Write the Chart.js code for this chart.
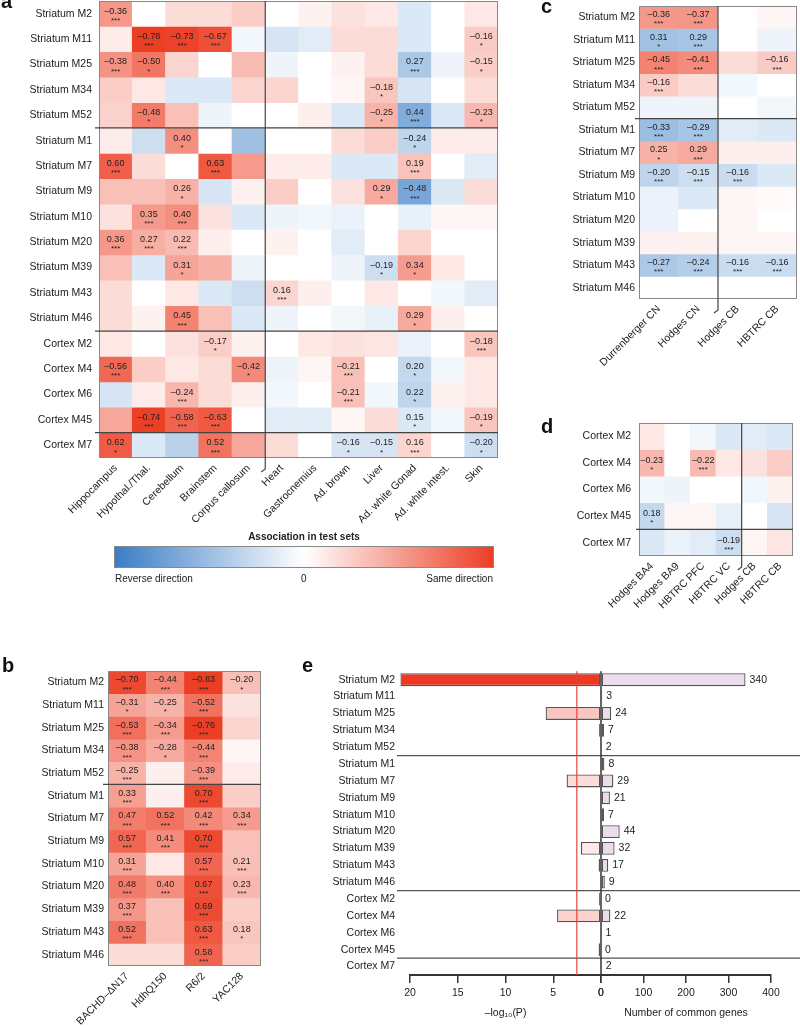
<!DOCTYPE html>
<html>
<head>
<meta charset="utf-8">
<script src="https://cdn.jsdelivr.net/npm/chart.js@4.4.1/dist/chart.umd.min.js"></script>
<style>
  body { margin: 0; background: #fff; font-family: "Liberation Sans", Arial, sans-serif; }
  #fig { position: relative; width: 800px; height: 1027px; overflow: hidden; }
  canvas { position: absolute; }
  .tag { position: absolute; font-weight: bold; font-size: 20px; line-height: 20px; color: #111; }
  .lg { position: absolute; font-size: 10px; line-height: 12px; color: #222; }
  .lgBar { position: absolute; box-sizing: border-box; border: 1px solid #888;
           background: linear-gradient(to right, rgb(58,125,198), #fff 50%, rgb(236,62,36)); }
</style>
</head>
<body>
<div id="fig">
  <canvas id="chartA" width="530" height="540" style="left:0;top:0"></canvas>
  <canvas id="chartB" width="262" height="387" style="left:0;top:640px"></canvas>
  <canvas id="chartC" width="270" height="405" style="left:530px;top:0"></canvas>
  <canvas id="chartD" width="270" height="207" style="left:530px;top:405px"></canvas>
  <canvas id="chartE" width="538" height="377" style="left:262px;top:650px"></canvas>

  <div class="tag" style="left:1px;top:-9px">a</div>
  <div class="tag" style="left:2px;top:655px">b</div>
  <div class="tag" style="left:541px;top:-4px">c</div>
  <div class="tag" style="left:541px;top:416px">d</div>
  <div class="tag" style="left:302px;top:655px">e</div>

  <div class="lg" style="left:114px;width:380px;top:531px;text-align:center;font-weight:bold">Association in test sets</div>
  <div class="lgBar" style="left:114px;top:546px;width:380px;height:22px"></div>
  <div class="lg" style="left:115px;top:573px">Reverse direction</div>
  <div class="lg" style="left:301px;top:573px">0</div>
  <div class="lg" style="left:394px;width:99px;top:573px;text-align:right">Same direction</div>
</div>

<script>
Chart.defaults.font.family = '"Liberation Sans", Arial, sans-serif';
Chart.defaults.color = '#222';

// module rows
const striatumRows = ['Striatum M2', 'Striatum M11', 'Striatum M25', 'Striatum M34', 'Striatum M52',
  'Striatum M1', 'Striatum M7', 'Striatum M9', 'Striatum M10', 'Striatum M20', 'Striatum M39',
  'Striatum M43', 'Striatum M46'];
const cortexRows = ['Cortex M2', 'Cortex M4', 'Cortex M6', 'Cortex M45', 'Cortex M7'];
const allRows = striatumRows.concat(cortexRows);

// panel a: tissues (score > 0 = same direction / red, < 0 = reverse / blue)
const aCols = ['Hippocampus', 'Hypothal./Thal.', 'Cerebellum', 'Brainstem', 'Corpus callosum',
  'Heart', 'Gastrocnemius', 'Ad. brown', 'Liver', 'Ad. white Gonad', 'Ad. white intest.', 'Skin'];
const aScores = [
  [0.36, 0.0, 0.1, 0.1, 0.15, 0.0, 0.03, 0.08, 0.06, -0.1, 0.0, 0.06],
  [0.05, 0.78, 0.73, 0.67, -0.03, -0.12, -0.08, 0.1, 0.1, -0.1, 0.0, 0.16],
  [0.38, 0.5, 0.12, 0.0, 0.22, -0.04, 0.0, 0.03, 0.1, -0.27, -0.04, 0.15],
  [0.15, 0.06, -0.1, -0.1, 0.12, 0.12, 0.0, 0.02, 0.18, -0.12, 0.0, 0.1],
  [0.13, 0.48, 0.2, -0.04, 0.0, 0.0, 0.04, -0.1, 0.25, -0.44, -0.1, 0.23],
  [0.05, -0.15, 0.4, 0.0, -0.32, 0.0, 0.0, 0.1, 0.15, -0.2, 0.05, 0.05],
  [0.6, 0.1, 0.0, 0.63, 0.35, 0.05, 0.05, -0.1, -0.1, 0.19, 0.0, -0.08],
  [0.2, 0.2, 0.26, -0.12, 0.03, 0.15, 0.0, 0.08, 0.29, -0.48, -0.1, 0.1],
  [0.08, 0.35, 0.4, 0.08, -0.1, -0.04, -0.03, -0.05, 0.0, -0.06, 0.02, 0.02],
  [0.36, 0.27, 0.22, 0.04, 0.0, 0.03, 0.0, -0.08, 0.0, 0.12, 0.0, 0.0],
  [0.2, -0.1, 0.31, 0.25, -0.04, 0.0, 0.0, -0.04, -0.15, 0.34, 0.06, 0.0],
  [0.1, 0.0, 0.06, -0.1, -0.15, 0.12, 0.04, 0.0, 0.06, 0.0, -0.03, -0.08],
  [0.1, 0.03, 0.45, 0.2, -0.1, -0.04, 0.0, -0.03, -0.06, 0.29, 0.04, 0.0],
  [0.06, 0.0, 0.08, 0.15, 0.03, 0.0, 0.06, 0.08, 0.07, -0.05, 0.0, 0.18],
  [0.56, 0.15, 0.06, 0.1, 0.42, -0.04, 0.02, 0.2, 0.0, -0.18, -0.03, 0.06],
  [-0.12, 0.05, 0.24, 0.1, 0.04, -0.03, 0.0, 0.2, -0.03, -0.2, 0.03, 0.06],
  [0.3, 0.74, 0.58, 0.63, 0.0, -0.08, -0.08, 0.02, 0.1, -0.1, -0.03, 0.18],
  [0.62, -0.1, -0.22, 0.52, 0.3, 0.1, 0.0, -0.12, -0.12, 0.12, 0.0, -0.15]
];
// [row, col, printed value, stars]
const aNotes = [
  [0, 0, -0.36, 3],
  [1, 1, -0.78, 3], [1, 2, -0.73, 3], [1, 3, -0.67, 3], [1, 11, -0.16, 1],
  [2, 0, -0.38, 3], [2, 1, -0.50, 1], [2, 9, 0.27, 3], [2, 11, -0.15, 1],
  [3, 8, -0.18, 1],
  [4, 1, -0.48, 1], [4, 8, -0.25, 1], [4, 9, 0.44, 3], [4, 11, -0.23, 1],
  [5, 2, 0.40, 1], [5, 9, -0.24, 1],
  [6, 0, 0.60, 3], [6, 3, 0.63, 3], [6, 9, 0.19, 3],
  [7, 2, 0.26, 1], [7, 8, 0.29, 1], [7, 9, -0.48, 3],
  [8, 1, 0.35, 3], [8, 2, 0.40, 3],
  [9, 0, 0.36, 3], [9, 1, 0.27, 3], [9, 2, 0.22, 3],
  [10, 2, 0.31, 1], [10, 8, -0.19, 1], [10, 9, 0.34, 1],
  [11, 5, 0.16, 3],
  [12, 2, 0.45, 3], [12, 9, 0.29, 1],
  [13, 3, -0.17, 1], [13, 11, -0.18, 3],
  [14, 0, -0.56, 3], [14, 4, -0.42, 1], [14, 7, -0.21, 3], [14, 9, 0.20, 1],
  [15, 2, -0.24, 3], [15, 7, -0.21, 3], [15, 9, 0.22, 1],
  [16, 1, -0.74, 3], [16, 2, -0.58, 3], [16, 3, -0.63, 3], [16, 9, 0.15, 1], [16, 11, -0.19, 1],
  [17, 0, 0.62, 1], [17, 3, 0.52, 3], [17, 7, -0.16, 1], [17, 8, -0.15, 1], [17, 9, 0.16, 3], [17, 11, -0.20, 1]
];

// panel b: HD mouse models
const bCols = ['BACHD\u2013\u0394N17', 'HdhQ150', 'R6/2', 'YAC128'];
const bScores = [
  [0.70, 0.44, 0.83, 0.20],
  [0.31, 0.25, 0.52, 0.08],
  [0.53, 0.34, 0.76, 0.12],
  [0.38, 0.28, 0.44, 0.02],
  [0.25, 0.04, 0.39, 0.05],
  [0.33, 0.04, 0.70, 0.15],
  [0.47, 0.52, 0.42, 0.34],
  [0.57, 0.41, 0.70, 0.2],
  [0.31, 0.06, 0.57, 0.21],
  [0.48, 0.40, 0.67, 0.23],
  [0.37, 0.2, 0.69, 0.15],
  [0.52, 0.2, 0.63, 0.18],
  [0.1, 0.1, 0.58, 0.15]
];
const bNotes = [
  [0, 0, -0.70, 3], [0, 1, -0.44, 3], [0, 2, -0.83, 3], [0, 3, -0.20, 1],
  [1, 0, -0.31, 1], [1, 1, -0.25, 1], [1, 2, -0.52, 3],
  [2, 0, -0.53, 3], [2, 1, -0.34, 3], [2, 2, -0.76, 3],
  [3, 0, -0.38, 3], [3, 1, -0.28, 1], [3, 2, -0.44, 3],
  [4, 0, -0.25, 3], [4, 2, -0.39, 3],
  [5, 0, 0.33, 3], [5, 2, 0.70, 3],
  [6, 0, 0.47, 3], [6, 1, 0.52, 3], [6, 2, 0.42, 3], [6, 3, 0.34, 3],
  [7, 0, 0.57, 3], [7, 1, 0.41, 3], [7, 2, 0.70, 3],
  [8, 0, 0.31, 3], [8, 2, 0.57, 3], [8, 3, 0.21, 3],
  [9, 0, 0.48, 3], [9, 1, 0.40, 3], [9, 2, 0.67, 3], [9, 3, 0.23, 3],
  [10, 0, 0.37, 3], [10, 2, 0.69, 3],
  [11, 0, 0.52, 3], [11, 2, 0.63, 3], [11, 3, 0.18, 1],
  [12, 2, 0.58, 3]
];

// panel c: human striatum / cerebellum
const cCols = ['Durrenberger CN', 'Hodges CN', 'Hodges CB', 'HBTRC CB'];
const cScores = [
  [0.36, 0.37, 0.0, 0.02],
  [-0.31, -0.29, 0.0, -0.04],
  [0.45, 0.41, 0.1, 0.16],
  [0.16, 0.1, -0.03, 0.0],
  [-0.04, -0.04, 0.0, -0.03],
  [-0.33, -0.29, -0.08, -0.1],
  [0.25, 0.29, 0.04, 0.04],
  [-0.2, -0.15, -0.16, -0.1],
  [-0.05, -0.1, 0.02, 0.01],
  [-0.05, 0.0, 0.02, 0.0],
  [0.03, 0.03, 0.02, 0.02],
  [-0.27, -0.24, -0.16, -0.16],
  [0.0, 0.0, 0.0, 0.0]
];
const cNotes = [
  [0, 0, -0.36, 3], [0, 1, -0.37, 3],
  [1, 0, 0.31, 1], [1, 1, 0.29, 3],
  [2, 0, -0.45, 3], [2, 1, -0.41, 3], [2, 3, -0.16, 3],
  [3, 0, -0.16, 3],
  [5, 0, -0.33, 3], [5, 1, -0.29, 3],
  [6, 0, 0.25, 1], [6, 1, 0.29, 3],
  [7, 0, -0.20, 3], [7, 1, -0.15, 3], [7, 2, -0.16, 3],
  [11, 0, -0.27, 3], [11, 1, -0.24, 3], [11, 2, -0.16, 3], [11, 3, -0.16, 3]
];

// panel d: human cortex / cerebellum
const dCols = ['Hodges BA4', 'Hodges BA9', 'HBTRC PFC', 'HBTRC VC', 'Hodges CB', 'HBTRC CB'];
const dScores = [
  [0.06, 0.0, -0.03, -0.1, -0.08, -0.1],
  [0.23, 0.0, 0.22, 0.06, 0.08, 0.15],
  [-0.03, -0.04, 0.0, 0.0, -0.03, 0.03],
  [-0.18, 0.02, 0.02, -0.06, 0.0, -0.12],
  [-0.1, -0.05, -0.08, -0.15, 0.02, 0.07]
];
const dNotes = [[1, 0, -0.23, 1], [1, 2, -0.22, 3], [3, 0, 0.18, 1], [4, 3, -0.19, 3]];

// panel e: overlap with HD signature
const eLogP = [21, 0.1, 5.8, 0.2, 0.05, 0.05, 3.6, 0.1, 0.05, 0, 2.1, 0.25, 0.1, 0.2, 4.6, 0, 0.25, 0];
const eGenes = [340, 3, 24, 7, 2, 8, 29, 21, 7, 44, 32, 17, 9, 0, 22, 1, 0, 2];
const eThreshold = 2.53;
const eLeftTicks = [20, 15, 10, 5, 0];
const eRightTicks = [0, 100, 200, 300, 400];

const FONT = 10.5;

function mix(end, t) {
  return 'rgb(' + end.map(c => Math.round(255 + (c - 255) * t)).join(',') + ')';
}

function heatColor(v) {
  const t = Math.pow(Math.min(1, Math.abs(v) / 0.75), 0.85);
  return mix(v >= 0 ? [236, 62, 36] : [58, 125, 198], t);
}

function fmt(v) {
  return (v < 0 ? '\u2013' : '') + Math.abs(v).toFixed(2);
}

// cell texts, frame and divider lines
const heatDecor = {
  id: 'heatDecor',
  afterDatasetsDraw(chart, args, o) {
    const { ctx, chartArea: ca, scales: { x, y } } = chart;
    ctx.save();
    ctx.textAlign = 'center';
    ctx.textBaseline = 'middle';
    ctx.fillStyle = '#222';
    o.notes.forEach(([r, c, v, s]) => {
      const el = chart.getDatasetMeta(r).data[c];
      const cy = (el.y + el.base) / 2;
      ctx.font = '9px "Liberation Sans", Arial';
      ctx.fillText(fmt(v), el.x, cy - 2.5);
      ctx.font = '8px "Liberation Sans", Arial';
      ctx.fillText('*'.repeat(s), el.x, cy + 7);
    });

    ctx.strokeStyle = '#888';
    ctx.lineWidth = 1;
    ctx.strokeRect(ca.left + 0.5, ca.top + 0.5, ca.width - 1, ca.height - 1);

    ctx.strokeStyle = '#444';
    ctx.lineWidth = 1.2;
    o.hLines.forEach(r => {
      const py = y.getPixelForValue(r);
      ctx.beginPath();
      ctx.moveTo(ca.left - o.lead, py);
      ctx.lineTo(ca.right, py);
      ctx.stroke();
    });
    if (o.vLine) {
      const px = (x.getPixelForValue(o.vLine - 1) + x.getPixelForValue(o.vLine)) / 2;
      ctx.beginPath();
      ctx.moveTo(px, ca.top);
      ctx.lineTo(px, ca.bottom + 11);
      ctx.lineTo(px - 4, ca.bottom + 14);
      ctx.stroke();
    }
    ctx.restore();
  }
};

function heatmap(id, rows, cols, scores, notes, o) {
  return new Chart(document.getElementById(id), {
    type: 'bar',
    data: {
      labels: cols,
      datasets: rows.map((r, ri) => ({
        label: r,
        data: cols.map(() => [ri, ri + 1]),
        backgroundColor: scores[ri].map(heatColor)
      }))
    },
    options: {
      responsive: false,
      animation: false,
      layout: { padding: { top: o.top, right: o.right, left: 0, bottom: 0 } },
      datasets: { bar: { grouped: false, barPercentage: 1, categoryPercentage: 1, borderWidth: 0 } },
      plugins: {
        legend: { display: false },
        tooltip: { enabled: false },
        heatDecor: { notes: notes, hLines: o.hLines, vLine: o.vLine, lead: o.lead }
      },
      scales: {
        x: {
          type: 'category',
          offset: true,
          grid: { display: false, drawTicks: false },
          border: { display: false },
          ticks: { minRotation: 45, maxRotation: 45, autoSkip: false, padding: 4, font: { size: FONT } },
          afterFit: s => { s.height = o.xHeight; s.paddingLeft = 0; s.paddingRight = 0; }
        },
        y: {
          type: 'linear',
          min: 0,
          max: rows.length,
          reverse: true,
          grid: { display: false, drawTicks: false },
          border: { display: false },
          afterBuildTicks: s => { s.ticks = rows.map((r, i) => ({ value: i + 0.5 })); },
          ticks: { autoSkip: false, padding: o.labelPad, font: { size: FONT }, callback: (v, i) => rows[i] },
          afterFit: s => { s.width = o.yWidth; s.paddingTop = 0; s.paddingBottom = 0; }
        }
      }
    },
    plugins: [heatDecor]
  });
}

heatmap('chartA', allRows, aCols, aScores, aNotes,
  { top: 1, right: 32, yWidth: 99, xHeight: 82, labelPad: 7, lead: 4, hLines: [5, 13, 17], vLine: 5 });
heatmap('chartB', striatumRows, bCols, bScores, bNotes,
  { top: 31, right: 1, yWidth: 108, xHeight: 61, labelPad: 4, lead: 5, hLines: [5], vLine: 0 });
heatmap('chartC', striatumRows, cCols, cScores, cNotes,
  { top: 6, right: 3, yWidth: 109, xHeight: 106, labelPad: 4, lead: 4, hLines: [5], vLine: 2 });
heatmap('chartD', cortexRows, dCols, dScores, dNotes,
  { top: 18, right: 7, yWidth: 109, xHeight: 56, labelPad: 8, lead: 3, hLines: [4], vLine: 4 });

// ---- panel e ----
const eDecor = {
  id: 'eDecor',
  afterDatasetsDraw(chart) {
    const { ctx, chartArea: ca, scales: { xl, xr, y } } = chart;
    ctx.save();
    // group dividers
    ctx.strokeStyle = '#555';
    ctx.lineWidth = 1.2;
    [5, 13, 17].forEach(i => {
      const py = (y.getPixelForTick(i - 1) + y.getPixelForTick(i)) / 2;
      ctx.beginPath();
      ctx.moveTo(ca.left - 13, py);
      ctx.lineTo(chart.width, py);
      ctx.stroke();
    });
    // zero line
    const x0 = xr.getPixelForValue(0);
    ctx.strokeStyle = '#333';
    ctx.lineWidth = 1.5;
    ctx.beginPath();
    ctx.moveTo(x0, ca.top);
    ctx.lineTo(x0, ca.bottom);
    ctx.stroke();
    // significance threshold
    const xt = xl.getPixelForValue(eThreshold);
    ctx.strokeStyle = '#e2453c';
    ctx.lineWidth = 1.2;
    ctx.beginPath();
    ctx.moveTo(xt, ca.top);
    ctx.lineTo(xt, ca.bottom);
    ctx.stroke();
    // gene counts
    ctx.fillStyle = '#222';
    ctx.font = FONT + 'px "Liberation Sans", Arial';
    ctx.textBaseline = 'middle';
    chart.getDatasetMeta(1).data.forEach((el, i) => {
      ctx.fillText(String(eGenes[i]), el.x + 4, el.y);
    });
    ctx.restore();
  }
};

const axisBase = {
  type: 'linear',
  position: 'bottom',
  stack: 'e',
  min: 0,
  grid: { drawOnChartArea: false, drawTicks: true, tickLength: 8, color: '#333', lineWidth: 1.5 },
  border: { display: true, color: '#333', width: 2 },
  afterFit: s => { s.height = 52; }
};

new Chart(document.getElementById('chartE'), {
  type: 'bar',
  data: {
    labels: allRows,
    datasets: [
      {
        data: eLogP,
        xAxisID: 'xl',
        backgroundColor: eLogP.map(v => mix([238, 56, 36], Math.min(1, v / 20))),
        clip: false
      },
      {
        data: eGenes,
        xAxisID: 'xr',
        backgroundColor: '#ecdcec',
        clip: false
      }
    ]
  },
  options: {
    indexAxis: 'y',
    responsive: false,
    animation: false,
    layout: { padding: { top: 13, right: 29, left: 0, bottom: 0 } },
    datasets: {
      bar: { grouped: false, barPercentage: 0.76, categoryPercentage: 1,
             borderWidth: 1.3, borderColor: '#555', borderSkipped: false }
    },
    plugins: { legend: { display: false }, tooltip: { enabled: false } },
    scales: {
      xl: Object.assign({}, axisBase, {
        max: 20,
        reverse: true,
        stackWeight: 191,
        afterBuildTicks: s => { s.ticks = eLeftTicks.map(v => ({ value: v })); },
        ticks: { padding: 4, font: { size: FONT } },
        title: { display: true, text: '\u2013log\u2081\u2080(P)', font: { size: FONT }, padding: { top: 4, bottom: 8 } }
      }),
      xr: Object.assign({}, axisBase, {
        max: 400,
        stackWeight: 170,
        afterBuildTicks: s => { s.ticks = eRightTicks.map(v => ({ value: v })); },
        ticks: { padding: 4, font: { size: FONT } },
        title: { display: true, text: 'Number of common genes', font: { size: FONT }, padding: { top: 4, bottom: 8 } }
      }),
      y: {
        type: 'category',
        grid: { display: false, drawTicks: false },
        border: { display: false },
        ticks: { autoSkip: false, padding: 15, font: { size: FONT } },
        afterFit: s => { s.width = 148; }
      }
    }
  },
  plugins: [eDecor]
});
</script>
</body>
</html>
